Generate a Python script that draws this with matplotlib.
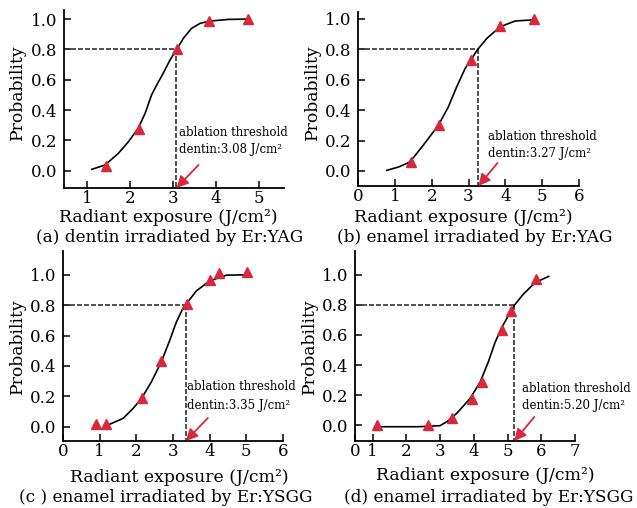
import numpy as np
import matplotlib
matplotlib.use('Agg')
import matplotlib.pyplot as plt

plt.rcParams['font.family'] = ['DejaVu Serif']
plt.rcParams['mathtext.fontset'] = 'dejavuserif'

RED = '#d9283c'

# ---- (a) dentin, Er:YAG
a_x = [1.43, 2.22, 3.09, 3.84, 4.75]
a_y = [0.033, 0.277, 0.80, 0.985, 1.0]
a_cx = [1.11, 1.42, 1.73, 1.96, 2.19, 2.35, 2.50, 2.62, 2.77, 2.93, 3.09, 3.24, 3.43, 3.63, 3.86, 4.29, 4.75]
a_cy = [0.009, 0.038, 0.115, 0.19, 0.28, 0.378, 0.499, 0.565, 0.642, 0.73, 0.802, 0.873, 0.939, 0.972, 0.987, 0.998, 1.0]
a_thr = 3.08

# ---- (b) enamel, Er:YAG
b_x = [1.43, 2.19, 3.06, 3.85, 4.78]
b_y = [0.059, 0.303, 0.73, 0.954, 1.0]
b_cx = [0.78, 1.10, 1.41, 1.77, 2.18, 2.45, 2.68, 2.91, 3.09, 3.25, 3.50, 3.86, 4.27, 4.81]
b_cy = [0.004, 0.026, 0.059, 0.169, 0.30, 0.42, 0.554, 0.675, 0.741, 0.80, 0.873, 0.949, 0.987, 0.995]
b_thr = 3.27

# ---- (c) enamel, Er:YSGG
c_x = [0.91, 1.18, 2.16, 2.68, 3.39, 4.0, 4.25, 5.02]
c_y = [0.017, 0.017, 0.19, 0.43, 0.81, 0.965, 1.01, 1.02]
c_cx = [1.27, 1.64, 1.91, 2.14, 2.41, 2.68, 2.91, 3.09, 3.26, 3.38, 3.64, 4.0, 4.46, 5.0]
c_cy = [0.016, 0.055, 0.12, 0.186, 0.295, 0.426, 0.568, 0.688, 0.775, 0.815, 0.895, 0.96, 0.998, 1.0]
c_thr = 3.35

# ---- (d) enamel, Er:YSGG
d_x = [1.14, 2.64, 3.36, 3.95, 4.23, 4.83, 5.10, 5.83]
d_y = [0.0, 0.0, 0.044, 0.172, 0.287, 0.63, 0.76, 0.97]
d_cx = [1.14, 2.35, 3.00, 3.20, 3.49, 3.89, 4.19, 4.43, 4.63, 4.83, 5.03, 5.21, 5.47, 5.82, 6.22]
d_cy = [-0.011, -0.011, -0.004, 0.022, 0.077, 0.177, 0.287, 0.42, 0.55, 0.65, 0.73, 0.80, 0.872, 0.949, 0.99]
d_thr = 5.20

yticks = [0.0, 0.2, 0.4, 0.6, 0.8, 1.0]

W, H = 637, 508

# layout in pixels of the 637x508 picture
panels = [
    dict(x=a_x, y=a_y, cx=a_cx, cy=a_cy, thr=a_thr, box=(64, 10, 284, 188),
         xlim=(0.465, 5.58), ylim=(-0.114, 1.06), xt=[1, 2, 3, 4, 5], xtl=['1', '2', '3', '4', '5'],
         cap='(a) dentin irradiated by Er:YAG', xlab=(168, 217), capxy=(170, 238), ylab=(18, 93),
         txt=(3, 55, 38), arr=(22, 23)),
    dict(x=b_x, y=b_y, cx=b_cx, cy=b_cy, thr=b_thr, box=(358, 12, 579, 186),
         xlim=(0, 6), ylim=(-0.099, 1.046), xt=[0, 1, 2, 3, 4, 5, 6], xtl=list('0123456'),
         cap='(b) enamel irradiated by Er:YAG', xlab=(463, 217), capxy=(475, 238), ylab=(313, 93),
         txt=(10, 49, 32), arr=(19, 23)),
    dict(x=c_x, y=c_y, cx=c_cx, cy=c_cy, thr=c_thr, box=(63, 251, 283, 441),
         xlim=(0, 6), ylim=(-0.094, 1.157), xt=[0, 1, 2, 3, 4, 5, 6], xtl=list('0123456'),
         cap='(c ) enamel irradiated by Er:YSGG', xlab=(179, 477), capxy=(166, 497), ylab=(18, 347),
         txt=(1, 54, 35), arr=(22, 23)),
    dict(x=d_x, y=d_y, cx=d_cx, cy=d_cy, thr=d_thr, box=(355, 251, 575, 441),
         xlim=(0.48, 7.0), ylim=(-0.106, 1.159), xt=[0.48, 1, 2, 3, 4, 5, 6, 7], xtl=list('01234567'),
         cap='(d) enamel irradiated by Er:YSGG', xlab=(485, 476), capxy=(489, 497), ylab=(310, 347),
         txt=(8, 53, 36), arr=(20, 24)),
]

fig = plt.figure(figsize=(W / 100, H / 100), dpi=100)

for p in panels:
    l, t, r, b = p['box']
    ax = fig.add_axes([l / W, 1 - b / H, (r - l) / W, (b - t) / H])
    ax.set_xlim(*p['xlim'])
    ax.set_ylim(*p['ylim'])
    for s in ('top', 'right'):
        ax.spines[s].set_visible(False)
    ax.spines['left'].set_linewidth(1.3)
    ax.spines['bottom'].set_linewidth(1.3)
    ax.tick_params(direction='in', length=5, width=1.1, labelsize=12)
    ax.tick_params(axis='x', pad=1.5)
    ax.tick_params(axis='y', pad=5)
    ax.set_xticks(p['xt'])
    ax.set_xticklabels(p['xtl'])
    ax.set_yticks(yticks)
    ax.set_yticklabels([f'{v:.1f}' for v in yticks])

    thr = p['thr']
    ybot = p['ylim'][0]
    ax.plot(p['cx'], p['cy'], color='black', lw=1.2, zorder=3, solid_joinstyle='round')
    ax.plot(p['x'], p['y'], linestyle='none', marker='^', ms=7, color=RED, zorder=4)

    ax.plot([p['xlim'][0], thr], [0.8, 0.8], color='#333333', lw=1.2, ls=(0, (3, 1.2)), zorder=2)
    ax.plot([thr, thr], [0.8, ybot], color='#333333', lw=1.2, ls=(0, (3, 1.2)), zorder=2)

    ax.annotate('', xy=(thr, ybot), xytext=p['arr'], textcoords='offset pixels',
                arrowprops=dict(arrowstyle='-|>,head_length=0.7,head_width=0.35',
                                color=RED, lw=1.3, shrinkA=0, shrinkB=0), zorder=5)
    dx, y1, y2 = p['txt']
    ax.annotate('ablation threshold', xy=(thr, ybot), xytext=(dx, y1), textcoords='offset pixels',
                fontsize=8.5, va='center', ha='left')
    ax.annotate(f'dentin:{thr:.2f} J/cm²', xy=(thr, ybot), xytext=(dx, y2), textcoords='offset pixels',
                fontsize=8.5, va='center', ha='left')

    fig.text(p['xlab'][0] / W, 1 - p['xlab'][1] / H, 'Radiant exposure (J/cm²)',
             fontsize=12.4, ha='center', va='center')
    fig.text(p['capxy'][0] / W, 1 - p['capxy'][1] / H, p['cap'],
             fontsize=12.2, ha='center', va='center')
    fig.text(p['ylab'][0] / W, 1 - p['ylab'][1] / H, 'Probability',
             fontsize=12.4, ha='center', va='center', rotation=90)

fig.savefig('out.png', dpi=100)
